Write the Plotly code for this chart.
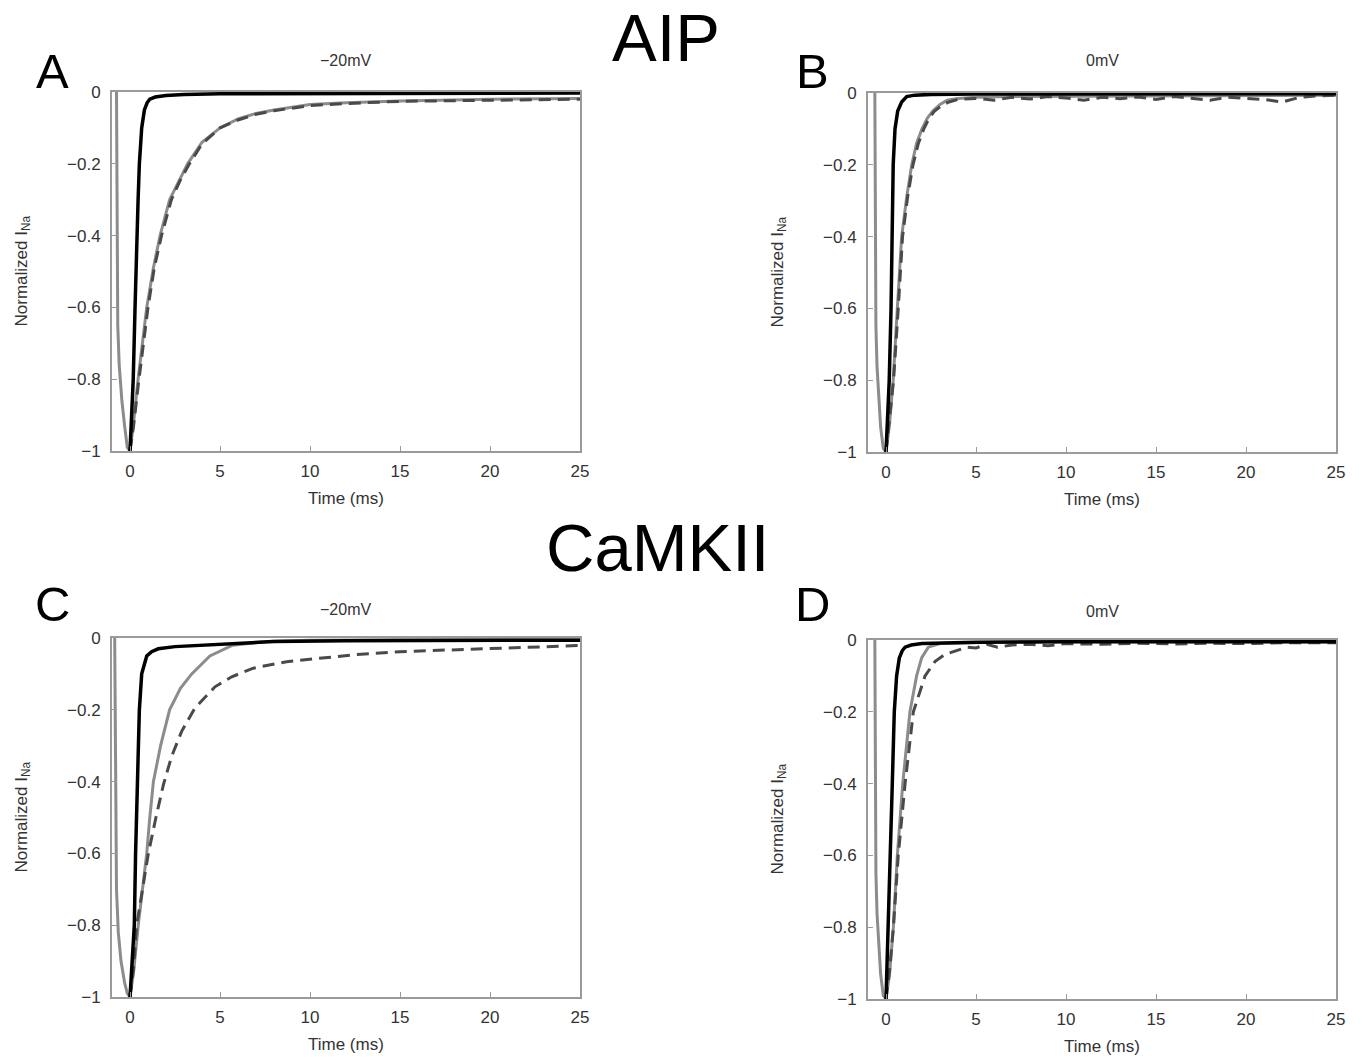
import plotly.graph_objects as go

# The page body margin is removed (post_script) so the figure fills the window exactly.
OFF = 0
W, H = 1366, 1061

# ---------------- data ----------------
# Panel A: AIP, -20 mV
A_black_t = [0, 0.18, 0.28, 0.37, 0.45, 0.52, 0.65, 0.8, 0.95, 1.1, 1.4, 2, 3, 5, 10, 15, 20, 25]
A_black_v = [-1, -0.8, -0.6, -0.4, -0.3, -0.2, -0.1, -0.05, -0.03, -0.02, -0.014, -0.01, -0.007, -0.005, -0.004, -0.003, -0.003, -0.003]
A_grey_t = [-0.75, -0.72, -0.68, -0.6, -0.45, -0.3, -0.15, 0.0, 0.2, 0.45, 0.7, 0.93, 1.3, 1.67, 2.2, 2.7, 3.2, 4, 5, 6, 7, 8, 10, 12, 15, 20, 25]
A_grey_v = [0, -0.35, -0.65, -0.76, -0.86, -0.93, -0.99, -1, -0.92, -0.8, -0.7, -0.6, -0.49, -0.4, -0.3, -0.25, -0.2, -0.14, -0.1, -0.075, -0.06, -0.05, -0.035, -0.03, -0.025, -0.02, -0.018]
A_dash_t = [0, 0.2, 0.45, 0.7, 1.0, 1.35, 1.75, 2.3, 2.8, 3.3, 4, 5, 6, 7, 8, 10, 12, 15, 20, 25]
A_dash_v = [-1, -0.93, -0.82, -0.72, -0.6, -0.49, -0.4, -0.3, -0.245, -0.2, -0.145, -0.1, -0.078, -0.062, -0.052, -0.038, -0.032, -0.026, -0.022, -0.02]

# Panel B: AIP, 0 mV
B_black_t = [0, 0.18, 0.28, 0.35, 0.4, 0.5, 0.65, 0.87, 1.15, 1.6, 2.5, 5, 10, 15, 20, 25]
B_black_v = [-1, -0.8, -0.6, -0.4, -0.2, -0.1, -0.05, -0.025, -0.01, -0.006, -0.004, -0.003, -0.002, -0.002, -0.002, -0.002]
B_grey_t = [-0.62, -0.6, -0.56, -0.5, -0.4, -0.3, -0.15, 0.0, 0.2, 0.4, 0.63, 0.87, 1.15, 1.43, 1.7, 2.0, 2.3, 2.6, 3.0, 3.4, 4, 5, 7, 10, 15, 20, 25]
B_grey_v = [0, -0.35, -0.65, -0.76, -0.86, -0.93, -0.99, -1, -0.92, -0.8, -0.6, -0.4, -0.29, -0.2, -0.14, -0.1, -0.07, -0.05, -0.032, -0.02, -0.015, -0.012, -0.01, -0.009, -0.008, -0.007, -0.006]
B_dash_t = [0, 0.2, 0.42, 0.68, 0.92, 1.2, 1.5, 1.8, 2.1, 2.4, 2.7, 3.1, 3.5, 4, 5, 6, 7, 8, 9, 10, 11, 12, 13, 14, 15, 16, 17, 18, 19, 20, 21, 22, 23, 24, 25]
B_dash_v = [-1, -0.9, -0.8, -0.6, -0.4, -0.29, -0.2, -0.14, -0.1, -0.07, -0.05, -0.035, -0.025, -0.018, -0.015, -0.02, -0.012, -0.017, -0.01, -0.014, -0.02, -0.012, -0.016, -0.011, -0.018, -0.01, -0.015, -0.02, -0.012, -0.014, -0.018, -0.025, -0.012, -0.008, -0.006]

# Panel C: CaMKII, -20 mV
C_black_t = [0, 0.24, 0.31, 0.41, 0.52, 0.65, 0.8, 0.93, 1.2, 1.57, 2.5, 3.9, 6, 8, 12, 16, 20, 25]
C_black_v = [-1, -0.8, -0.6, -0.4, -0.2, -0.1, -0.07, -0.05, -0.038, -0.03, -0.024, -0.02, -0.014, -0.01, -0.008, -0.007, -0.006, -0.006]
C_grey_t = [-0.85, -0.8, -0.75, -0.65, -0.5, -0.3, -0.15, 0.0, 0.2, 0.46, 0.7, 0.93, 1.1, 1.3, 1.7, 2.2, 2.8, 3.43, 4.44, 5.7, 7.6, 10, 15, 20, 25]
C_grey_v = [0, -0.4, -0.7, -0.82, -0.9, -0.96, -0.99, -1, -0.93, -0.8, -0.7, -0.6, -0.5, -0.4, -0.3, -0.2, -0.14, -0.1, -0.05, -0.02, -0.01, -0.006, -0.005, -0.005, -0.005]
C_dash_t = [0, 0.2, 0.37, 0.7, 1.02, 1.44, 1.85, 2.31, 2.87, 3.61, 4.72, 5.65, 6.85, 8.7, 10.4, 12.4, 15, 18.7, 22.4, 25]
C_dash_v = [-1, -0.92, -0.8, -0.7, -0.6, -0.5, -0.41, -0.33, -0.26, -0.195, -0.136, -0.108, -0.084, -0.066, -0.057, -0.047, -0.038, -0.031, -0.025, -0.021]

# Panel D: CaMKII, 0 mV
D_black_t = [0, 0.13, 0.26, 0.35, 0.46, 0.59, 0.74, 0.9, 1.06, 1.4, 2, 3, 5, 10, 15, 20, 25]
D_black_v = [-1, -0.8, -0.6, -0.4, -0.2, -0.1, -0.05, -0.03, -0.02, -0.014, -0.01, -0.008, -0.006, -0.005, -0.005, -0.005, -0.005]
D_grey_t = [-0.62, -0.6, -0.56, -0.5, -0.4, -0.3, -0.15, 0.0, 0.2, 0.41, 0.63, 0.93, 1.33, 1.7, 1.98, 2.35, 3, 4, 6, 10, 15, 20, 25]
D_grey_v = [0, -0.35, -0.65, -0.76, -0.86, -0.93, -0.99, -1, -0.93, -0.8, -0.6, -0.4, -0.2, -0.1, -0.05, -0.02, -0.01, -0.008, -0.006, -0.005, -0.005, -0.005, -0.005]
D_dash_t = [0, 0.2, 0.41, 0.68, 1.06, 1.52, 2.17, 2.72, 3.28, 4.5, 5.0, 5.6, 6.2, 7, 8, 9, 10, 12, 14, 16, 18, 20, 22, 25]
D_dash_v = [-1, -0.92, -0.8, -0.6, -0.4, -0.2, -0.1, -0.06, -0.04, -0.02, -0.022, -0.012, -0.02, -0.014, -0.012, -0.016, -0.01, -0.012, -0.009, -0.011, -0.009, -0.01, -0.008, -0.008]

panel_letters = ["A", "B", "C", "D"]
panel_titles = ["\u221220mV", "0mV", "\u221220mV", "0mV"]
group_titles = ["AIP", "CaMKII"]
x_ticks = [0, 5, 10, 15, 20, 25]
y_ticks = [0, -0.2, -0.4, -0.6, -0.8, -1]

panels = [
    (A_grey_t, A_grey_v, A_dash_t, A_dash_v, A_black_t, A_black_v),
    (B_grey_t, B_grey_v, B_dash_t, B_dash_v, B_black_t, B_black_v),
    (C_grey_t, C_grey_v, C_dash_t, C_dash_v, C_black_t, C_black_v),
    (D_grey_t, D_grey_v, D_dash_t, D_dash_v, D_black_t, D_black_v),
]

# ---------------- layout (page pixel boxes) ----------------
boxes = [  # left, right, top, bottom in page pixels
    (112, 580, 92, 451),
    (868, 1336, 93, 452),
    (112, 580, 638, 997),
    (868, 1336, 640, 999),
]
letter_pos = [(52, 71), (812, 71), (52, 604), (812, 604)]
title_pos = [(345, 61), (1102, 61), (345, 609), (1102, 611)]
group_pos = [(666, 37), (657, 547)]
xtitle_dy = 47

def px(x):
    return (x - OFF) / W

def py(y):
    return 1 - (y - OFF) / H

FONT = "Liberation Sans, Arial, Helvetica, sans-serif"

fig = go.Figure()
layout = dict(
    width=W, height=H, margin=dict(l=0, r=0, t=0, b=0, autoexpand=False),
    paper_bgcolor="white", plot_bgcolor="white", showlegend=False,
    font=dict(family=FONT, size=17, color="#333"),
)
annotations = []
for i, (gt, gv, dt, dv, bt, bv) in enumerate(panels):
    n = "" if i == 0 else str(i + 1)
    xa, ya = "x" + n, "y" + n
    fig.add_trace(go.Scatter(x=gt, y=gv, mode="lines", xaxis=xa, yaxis=ya,
                             line=dict(color="#8c8c8c", width=3)))
    fig.add_trace(go.Scatter(x=dt, y=dv, mode="lines", xaxis=xa, yaxis=ya,
                             line=dict(color="#4a4a4a", width=3, dash="12px,7px")))
    fig.add_trace(go.Scatter(x=bt, y=bv, mode="lines", xaxis=xa, yaxis=ya,
                             line=dict(color="#000000", width=3.5)))
    l, r, t, b = boxes[i]
    axcommon = dict(showline=True, mirror=True, linecolor="#9a9a9a", linewidth=2,
                    ticks="inside", ticklen=5, tickcolor="#9a9a9a", tickwidth=1,
                    showgrid=False, zeroline=False, automargin=False,
                    tickfont=dict(family=FONT, size=17, color="#333"))
    layout["xaxis" + n] = dict(domain=[px(l), px(r)], range=[-1, 25], anchor=ya,
                               tickvals=x_ticks, ticktext=[str(v) for v in x_ticks],
                               ticklabelstandoff=4, **axcommon)
    layout["yaxis" + n] = dict(domain=[py(b), py(t)], range=[-1, 0], anchor=xa,
                               tickvals=y_ticks, ticklabelstandoff=6, **axcommon)
    # axis titles
    annotations.append(dict(text="Time (ms)", x=px((l + r) / 2), y=py(b + xtitle_dy), xref="paper", yref="paper",
                            showarrow=False, xanchor="center", yanchor="middle",
                            font=dict(family=FONT, size=17, color="#333")))
    annotations.append(dict(text="Normalized I<sub>Na</sub>", x=px(l - 90), y=py((t + b) / 2),
                            xref="paper", yref="paper", showarrow=False, textangle=-90,
                            xanchor="center", yanchor="middle",
                            font=dict(family=FONT, size=17, color="#333")))
    lx, ly = letter_pos[i]
    annotations.append(dict(text=panel_letters[i], x=px(lx), y=py(ly), xref="paper", yref="paper",
                            showarrow=False, xanchor="center", yanchor="middle",
                            font=dict(family=FONT, size=49, color="#000")))
    tx, ty = title_pos[i]
    annotations.append(dict(text=panel_titles[i], x=px(tx), y=py(ty), xref="paper", yref="paper",
                            showarrow=False, xanchor="center", yanchor="middle",
                            font=dict(family=FONT, size=16, color="#333")))

for txt, (gx, gy) in zip(group_titles, group_pos):
    annotations.append(dict(text=txt, x=px(gx), y=py(gy), xref="paper", yref="paper",
                            showarrow=False, xanchor="center", yanchor="middle",
                            font=dict(family=FONT, size=67, color="#000")))

layout["annotations"] = annotations
fig.update_layout(**layout)
fig.write_html(
    "out.html",
    config={"displayModeBar": False},
    post_script="document.body.style.margin='0px';document.documentElement.style.overflow='hidden';",
)
